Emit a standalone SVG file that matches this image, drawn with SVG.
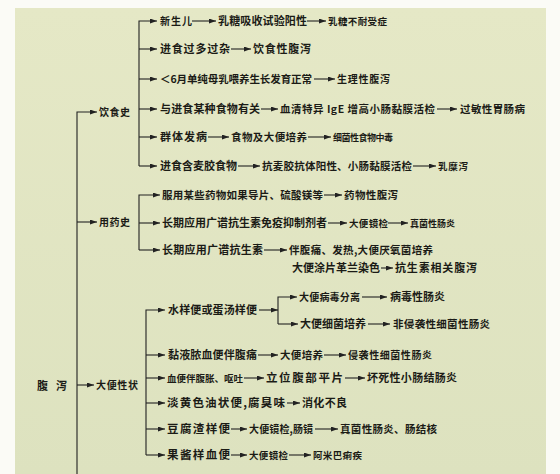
<svg xmlns="http://www.w3.org/2000/svg" width="560" height="474" viewBox="0 0 560 474">
<defs>
<style>
.t{font-family:"Noto Sans CJK SC","Noto Sans",sans-serif;font-size:10.5px;font-weight:bold;fill:#1b1b16}
.f115{font-size:11.5px}
.f11{font-size:11px}
.f10{font-size:10px}
.f95{font-size:9.5px}
.f9{font-size:9px}
.c path{fill:none;stroke:#222;stroke-width:1.1}
.c path.a{marker-end:url(#ah)}
</style>
<marker id="ah" viewBox="0 0 7 5" refX="7" refY="2.5" markerWidth="7" markerHeight="5" markerUnits="userSpaceOnUse" orient="auto">
<path d="M0,0 L7,2.5 L0,5 z" fill="#222"/>
</marker>
<linearGradient id="bg" x1="0" y1="0" x2="0" y2="1">
<stop offset="0" stop-color="#e5e8c6"/>
<stop offset="1" stop-color="#dde2bf"/>
</linearGradient>
</defs>
<rect width="560" height="474" fill="#fbfbf6"/>
<rect x="15" y="8" width="531" height="466" fill="url(#bg)"/>

<g class="c" id="connectors">
<path class="a" d="M77,474 V112 H97"/>
<path class="a" d="M77,222 H97"/>
<path class="a" d="M77,385 H94"/>

<path class="a" d="M139,166 V21 H157"/>
<path class="a" d="M192,21 H216"/>
<path class="a" d="M307,21 H326"/>
<path class="a" d="M139,49 H157"/>
<path class="a" d="M231,49 H251"/>
<path class="a" d="M139,79 H157"/>
<path class="a" d="M314,79 H335"/>
<path class="a" d="M139,109 H157"/>
<path class="a" d="M261,109 H278"/>
<path class="a" d="M437,109 H457"/>
<path class="a" d="M139,137 H157"/>
<path class="a" d="M208,137 H229"/>
<path class="a" d="M308,137 H331"/>
<path class="a" d="M139,166 H157"/>
<path class="a" d="M238,166 H260"/>
<path class="a" d="M413,166 H436"/>

<path class="a" d="M139,250 V195 H160"/>
<path class="a" d="M139,223 H160"/>
<path class="a" d="M139,250 H160"/>
<path class="a" d="M324,195 H342"/>
<path class="a" d="M328,223 H347"/>
<path class="a" d="M388,223 H408"/>
<path class="a" d="M264,250 H287"/>
<path class="a" d="M381,268 H393"/>

<path class="a" d="M146,455 V310 H165"/>
<path class="a" d="M146,355 H165"/>
<path class="a" d="M146,378 H165"/>
<path class="a" d="M146,403 H165"/>
<path class="a" d="M146,429 H165"/>
<path class="a" d="M146,455 H165"/>
<path class="a" d="M259,310 H278"/>
<path class="a" d="M278,324 V297 H297"/>
<path class="a" d="M278,324 H298"/>
<path class="a" d="M362,297 H387"/>
<path class="a" d="M368,324 H390"/>
<path class="a" d="M258,355 H278"/>
<path class="a" d="M324,355 H346"/>
<path class="a" d="M244,378 H264"/>
<path class="a" d="M345,378 H365"/>
<path class="a" d="M287,403 H300"/>
<path class="a" d="M231,429 H247"/>
<path class="a" d="M315,429 H338"/>
<path class="a" d="M231,455 H247"/>
<path class="a" d="M289,455 H311"/>
</g>

<g id="n-root"><text class="t f11" x="37" y="390" textLength="30">腹 泻</text></g>
<g id="n-diet"><text class="t f10" x="99" y="116" textLength="31">饮食史</text></g>
<g id="n-drug"><text class="t f10" x="99" y="226" textLength="31">用药史</text></g>
<g id="n-stool"><text class="t f10" x="96" y="389" textLength="42">大便性状</text></g>

<g id="n-d1"><text class="t f10" x="160" y="25" textLength="32">新生儿</text></g>
<g id="n-d1a"><text class="t f11" x="218" y="25" textLength="89">乳糖吸收试验阳性</text></g>
<g id="n-d1b"><text class="t f95" x="328" y="25" textLength="59">乳糖不耐受症</text></g>
<g id="n-d2"><text class="t f11" x="160" y="53" textLength="70">进食过多过杂</text></g>
<g id="n-d2a"><text class="t f11" x="253" y="53" textLength="58">饮食性腹泻</text></g>
<g id="n-d3"><text class="t" x="160" y="83" textLength="152">＜6月单纯母乳喂养生长发育正常</text></g>
<g id="n-d3a"><text class="t f10" x="337" y="83" textLength="53">生理性腹泻</text></g>
<g id="n-d4"><text class="t f11" x="160" y="113" textLength="100">与进食某种食物有关</text></g>
<g id="n-d4a"><text class="t" x="280" y="113" textLength="155">血清特异 IgE 增高小肠黏膜活检</text></g>
<g id="n-d4b"><text class="t" x="460" y="113" textLength="65">过敏性胃肠病</text></g>
<g id="n-d5"><text class="t f11" x="160" y="141" textLength="47">群体发病</text></g>
<g id="n-d5a"><text class="t" x="231" y="141" textLength="76">食物及大便培养</text></g>
<g id="n-d5b"><text class="t f9" x="333" y="141" textLength="60">细菌性食物中毒</text></g>
<g id="n-d6"><text class="t f11" x="160" y="170" textLength="77">进食含麦胶食物</text></g>
<g id="n-d6a"><text class="t" x="262" y="170" textLength="150">抗麦胶抗体阳性、小肠黏膜活检</text></g>
<g id="n-d6b"><text class="t f95" x="438" y="170" textLength="30">乳糜泻</text></g>

<g id="n-m1"><text class="t" x="162" y="199" textLength="161">服用某些药物如果导片、硫酸镁等</text></g>
<g id="n-m1a"><text class="t" x="344" y="199" textLength="54">药物性腹泻</text></g>
<g id="n-m2"><text class="t f11" x="162" y="227" textLength="165">长期应用广谱抗生素免疫抑制剂者</text></g>
<g id="n-m2a"><text class="t f95" x="349" y="227" textLength="39">大便镜检</text></g>
<g id="n-m2b"><text class="t f9" x="410" y="227" textLength="45">真菌性肠炎</text></g>
<g id="n-m3"><text class="t f11" x="162" y="254" textLength="101">长期应用广谱抗生素</text></g>
<g id="n-m3a"><text class="t" x="289" y="254" textLength="144">伴腹痛、发热,大便厌氧菌培养</text></g>
<g id="n-m3b"><text class="t f11" x="292" y="272" textLength="88">大便涂片革兰染色</text></g>
<g id="n-m3c"><text class="t f11" x="395" y="272" textLength="82">抗生素相关腹泻</text></g>

<g id="n-s1"><text class="t f11" x="168" y="314" textLength="89">水样便或蛋汤样便</text></g>
<g id="n-s1a"><text class="t f10" x="299" y="301" textLength="61">大便病毒分离</text></g>
<g id="n-s1a1"><text class="t f11" x="390" y="301" textLength="55">病毒性肠炎</text></g>
<g id="n-s1b"><text class="t f11" x="300" y="328" textLength="66">大便细菌培养</text></g>
<g id="n-s1b1"><text class="t" x="393" y="328" textLength="97">非侵袭性细菌性肠炎</text></g>
<g id="n-s2"><text class="t f11" x="168" y="359" textLength="89">黏液脓血便伴腹痛</text></g>
<g id="n-s2a"><text class="t" x="280" y="359" textLength="43">大便培养</text></g>
<g id="n-s2b"><text class="t f10" x="348" y="359" textLength="84">侵袭性细菌性肠炎</text></g>
<g id="n-s3"><text class="t f95" x="167" y="382" textLength="76">血便伴腹胀、呕吐</text></g>
<g id="n-s3a"><text class="t f115" x="266" y="382" textLength="77">立位腹部平片</text></g>
<g id="n-s3b"><text class="t f11" x="367" y="382" textLength="90">坏死性小肠结肠炎</text></g>
<g id="n-s4"><text class="t f115" x="167" y="407" textLength="118">淡黄色油状便,腐臭味</text></g>
<g id="n-s4a"><text class="t f11" x="302" y="407" textLength="45">消化不良</text></g>
<g id="n-s5"><text class="t f115" x="167" y="433" textLength="63">豆腐渣样便</text></g>
<g id="n-s5a"><text class="t f10" x="249" y="433" textLength="64">大便镜检,肠镜</text></g>
<g id="n-s5b"><text class="t" x="340" y="433" textLength="97">真菌性肠炎、肠结核</text></g>
<g id="n-s6"><text class="t f115" x="167" y="459" textLength="63">果酱样血便</text></g>
<g id="n-s6a"><text class="t f95" x="249" y="459" textLength="39">大便镜检</text></g>
<g id="n-s6b"><text class="t f95" x="313" y="459" textLength="49">阿米巴痢疾</text></g>
</svg>
